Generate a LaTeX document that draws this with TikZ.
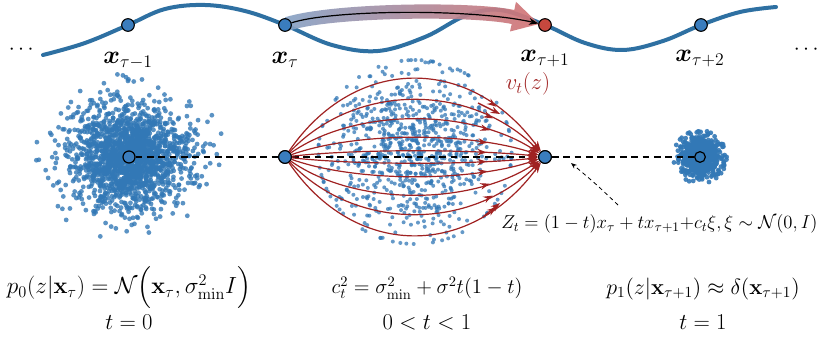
\RequirePackage{fix-cm}
\documentclass[tikz,border=0pt]{standalone}
\usepackage{amsmath,amssymb,bm}
\usetikzlibrary{arrows.meta,decorations.markings,calc}
\definecolor{waveblue}{RGB}{46,112,162}
\definecolor{nodeblue}{RGB}{58,125,190}
\definecolor{dotblue}{RGB}{50,120,182}
\definecolor{rednode}{RGB}{198,72,62}
\definecolor{fanred}{RGB}{160,34,34}
\definecolor{bandL}{RGB}{135,163,198}
\definecolor{bandR}{RGB}{214,116,116}
\begin{document}
\begin{tikzpicture}[x=0.75pt,y=-0.75pt,
  wnode/.style={circle,draw=black,line width=0.8pt,fill=nodeblue,minimum size=9.5pt,inner sep=0pt},
  rnode/.style={wnode,fill=rednode},
  ocirc/.style={circle,draw=black,line width=0.9pt,fill=nodeblue,minimum size=9pt,inner sep=0pt},
  toplab/.style={anchor=base,font=\fontsize{19}{22}\selectfont,inner sep=0pt},
  botlab/.style={font=\fontsize{17}{20}\selectfont,inner sep=0pt},
  fan/.style={draw=fanred,line width=0.9pt,-{Stealth[length=8pt,width=5.5pt]},
    postaction={decorate},
    decoration={markings,mark=at position 0.79 with {\arrow{Stealth[length=7pt,width=5pt]}}}},
  shortarr/.style={draw=fanred,line width=1.1pt,-{Stealth[length=7pt,width=5pt]}},
  dashln/.style={draw=black,line width=0.8pt,dash pattern=on 5pt off 3.5pt}
]
\useasboundingbox (0,0) rectangle (832,338);
\fill[white] (0,0) rectangle (832,338);

% ---- point clouds ----
\pgfmathsetseed{12}
\foreach \i in {1,...,1800}{
  \pgfmathsetmacro\ra{min(3.2,sqrt(-2*ln(rnd*0.999+0.001)))}
  \pgfmathsetmacro\an{rnd*360}
  \fill[dotblue,opacity=0.8] ({129+30*\ra*cos(\an)},{157+26*\ra*sin(\an)}) circle (1.8pt);
}
\foreach \i in {1,...,850}{
  \pgfmathsetmacro\ra{min(2.3,sqrt(-2*ln(rnd*0.999+0.001)))}
  \pgfmathsetmacro\an{rnd*360}
  \fill[dotblue,opacity=0.75] ({415+42*\ra*cos(\an)},{152+40*\ra*sin(\an)}) circle (1.5pt);
}
\foreach \i in {1,...,700}{
  \pgfmathsetmacro\ra{min(2.8,sqrt(-2*ln(rnd*0.999+0.001)))}
  \pgfmathsetmacro\an{rnd*360}
  \fill[dotblue,opacity=0.9] ({700+9.5*\ra*cos(\an)},{157+9.5*\ra*sin(\an)}) circle (1.8pt);
}

% ---- dashed axis ----
\node[ocirc] (c0) at (129,157) {};
\node[ocirc,fill=dotblue,minimum size=8pt] (c1) at (700,157) {};
\node[wnode] (m1) at (285,157) {};
\node[wnode] (m2) at (545,157) {};
\draw[dashln] (c0) -- (m1);
\draw[dashln] (m1) -- (m2);
\draw[dashln] (m2) -- (c1);

% ---- fan of flows ----
\foreach \o in {-77,-56,-37,-19,-6,6,19,37,56,77}{
  \draw[fan] (m1) .. controls ($(m1)+(70,1.33*\o)$) and ($(m2)+(-75,1.33*\o)$) .. (m2);
}
\node[wnode] at (m1) {};
\node[wnode] at (m2) {};

\coordinate (sa1) at (478,103); \coordinate (sa2) at (500,114);
\coordinate (sb1) at (483,217); \coordinate (sb2) at (500,203);
\draw[shortarr] (sa1) -- (sa2);
\draw[shortarr] (sb1) -- (sb2);
\node[text=fanred,font=\fontsize{17}{20}\selectfont,inner sep=0pt] (vt) at (528,84) {$v_t(z)$};

% ---- Z_t annotation ----
\node[font=\fontsize{14}{17}\selectfont,inner sep=0pt,anchor=west] (zt) at (501,224) {$Z_t=(1-t)x_\tau+tx_{\tau+1}{+}c_t\xi,\xi\sim\mathcal{N}(0,I)$};
\coordinate (an1) at (618,205);
\coordinate (an2) at (571,163);
\draw[line width=0.6pt,dash pattern=on 3pt off 2.5pt,-{Stealth[length=4.5pt,width=3.5pt]}] (an1) .. controls (596,184) .. (an2);

% ---- top wave ----
\draw[waveblue,line width=3pt,line cap=round] plot[smooth,tension=0.6] coordinates {
 (43,55) (85,43) (128,25) (165,9) (205,5) (245,11) (285,25) (332,45) (378,51)
 (425,37) (465,16) (500,10) (545,25) (585,43) (623,50) (663,41) (701,25) (740,12) (776,7)};

% gradient band arrow
\shade[left color=bandL,right color=bandR,opacity=0.92]
  (285,17.3) .. controls (331,2.8) and (471,0.8) .. (514.3,10) -- (516,1.8) -- (539,24)
  -- (510,31.5) -- (511.7,24) .. controls (469,15.2) and (329,17.2) .. (289,30.7) -- cycle;

\node[wnode] (xa) at (128,25) {};
\node[wnode] (xb) at (285,25) {};
\node[rnode] (xc) at (545,25) {};
\node[wnode] (xd) at (701,25) {};
\draw[black,line width=0.9pt,-{Stealth[length=7pt,width=5pt]}] (xb) .. controls (330,10) and (470,8) .. (xc);

\node[toplab] (la) at (128,64) {$\bm{x}_{\tau-1}$};
\node[toplab] (lb) at (285,64) {$\bm{x}_{\tau}$};
\node[toplab] (lc) at (545,62) {$\bm{x}_{\tau+1}$};
\node[toplab] (ld) at (700,62) {$\bm{x}_{\tau+2}$};
\node[font=\fontsize{16}{19}\selectfont,inner sep=0pt] (dl) at (23,50) {$\cdots$};
\node[font=\fontsize{16}{19}\selectfont,inner sep=0pt] (dr) at (808,50) {$\cdots$};

% ---- bottom labels ----
\node[botlab,font=\fontsize{17.5}{20}\selectfont] (p0) at (129,288) {$p_0(z|\mathbf{x}_\tau)=\mathcal{N}\Big(\mathbf{x}_\tau,\sigma^2_{\min}I\Big)$};
\node[botlab] (t0) at (129,322) {$t=0$};
\node[botlab,font=\fontsize{15.5}{18}\selectfont] (ct) at (427,288) {$c_t^2=\sigma^2_{\min}+\sigma^2t(1-t)$};
\node[botlab] (t1) at (427,322) {$0<t<1$};
\node[botlab,font=\fontsize{16.5}{19}\selectfont] (p1) at (703,289) {$p_1(z|\mathbf{x}_{\tau+1})\approx\delta(\mathbf{x}_{\tau+1})$};
\node[botlab] (t2) at (703,322) {$t=1$};
\end{tikzpicture}
\end{document}
